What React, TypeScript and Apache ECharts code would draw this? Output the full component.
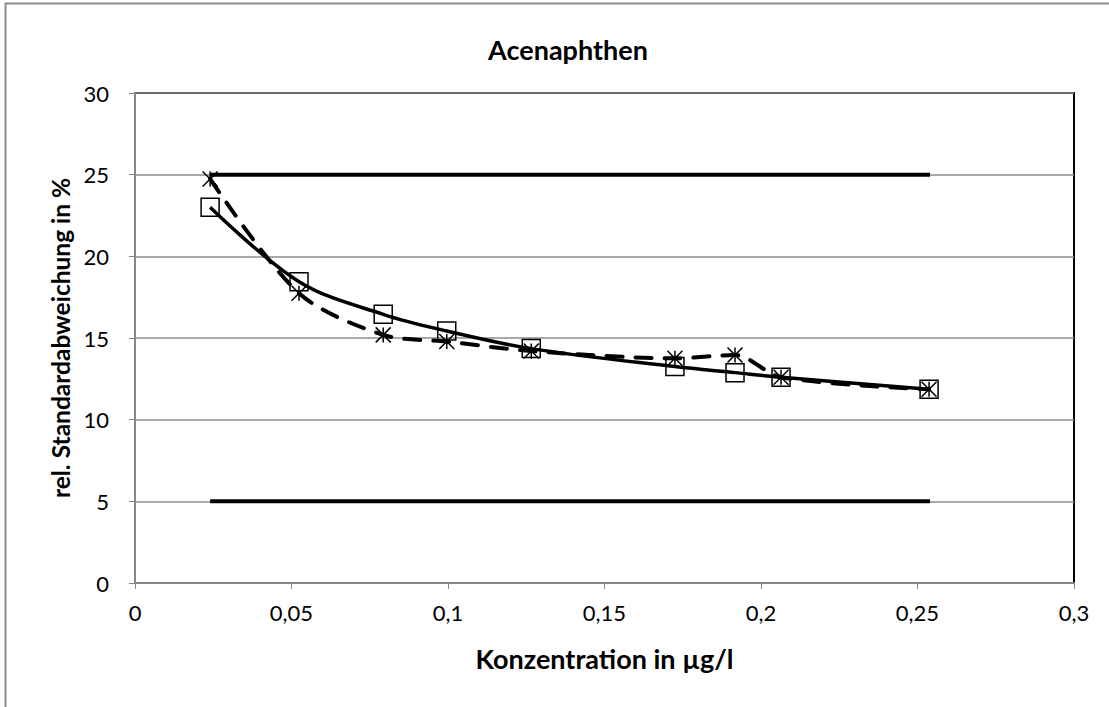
import React, { useEffect, useRef } from "react";
import * as echarts from "echarts";

const xSquares = [0.024, 0.0524, 0.0793, 0.0996, 0.1266, 0.1725, 0.1917, 0.2064, 0.2537];
const ySquares = [23.0, 18.45, 16.45, 15.43, 14.35, 13.25, 12.88, 12.6, 11.86];
const xStars = [0.024, 0.0524, 0.0793, 0.0996, 0.1266, 0.1725, 0.1917, 0.2064, 0.2537];
const yStars = [24.74, 17.74, 15.19, 14.78, 14.2, 13.76, 13.96, 12.6, 11.86];
const limitX = [0.024, 0.254];
const upperLimit = 25;
const lowerLimit = 5;

const FONT = "Lato";
const STAR = "path://M0,0L12,12M12,0L0,12M6,0L6,12";

export default function App() {
  const ref = useRef<HTMLDivElement>(null);
  useEffect(() => {
    if (!ref.current) return;
    const chart = echarts.init(ref.current, null, { renderer: "svg" });
    const fmt = (v: number) => String(Math.round(v * 1000) / 1000).replace(".", ",");
    chart.setOption({
      animation: false,
      backgroundColor: "#fff",
      textStyle: { fontFamily: FONT },
      title: {
        text: "Acenaphthen",
        left: 563,
        top: 31,
        textAlign: "center",
        textStyle: { fontFamily: FONT, fontWeight: "bold", fontSize: 27, color: "#000" },
      },
      graphic: [
        {
          type: "rect",
          shape: { x: 5.5, y: 3.5, width: 1300, height: 900 },
          style: { fill: "none", stroke: "#8c8c8c", lineWidth: 2 },
          silent: true,
        },
      ],
      grid: {
        left: 135,
        right: 35,
        top: 93,
        bottom: 124,
        show: true,
        borderColor: "#000",
        borderWidth: 2,
      },
      xAxis: {
        type: "value",
        min: 0,
        max: 0.3,
        interval: 0.05,
        name: "Konzentration in µg/l",
        nameLocation: "middle",
        nameGap: 62,
        nameTextStyle: { fontFamily: FONT, fontWeight: "bold", fontSize: 27, color: "#000" },
        axisLine: { show: true, onZero: false, lineStyle: { color: "#868686", width: 2 } },
        axisTick: { show: true, inside: false, length: 6, lineStyle: { color: "#868686", width: 1 } },
        axisLabel: { formatter: fmt, fontFamily: FONT, fontSize: 22, color: "#000", margin: 18 },
        splitLine: { show: false },
      },
      yAxis: {
        type: "value",
        min: 0,
        max: 30,
        interval: 5,
        name: "rel. Standardabweichung in %",
        nameLocation: "middle",
        nameGap: 60,
        nameTextStyle: { fontFamily: FONT, fontWeight: "bold", fontSize: 24.5, color: "#000" },
        axisLine: { show: true, onZero: false, lineStyle: { color: "#868686", width: 2 } },
        axisTick: { show: true, inside: false, length: 6, lineStyle: { color: "#868686", width: 1 } },
        axisLabel: { fontFamily: FONT, fontSize: 22, color: "#000", margin: 26 },
        splitLine: { show: true, lineStyle: { color: "#8c8c8c", width: 1.5 } },
      },
      series: [
        {
          type: "line",
          data: limitX.map((x) => [x, upperLimit]),
          symbol: "none",
          lineStyle: { color: "#000", width: 4 },
          z: 3,
        },
        {
          type: "line",
          data: limitX.map((x) => [x, lowerLimit]),
          symbol: "none",
          lineStyle: { color: "#000", width: 4 },
          z: 3,
        },
        {
          type: "line",
          data: xStars.map((x, i) => [x, yStars[i]]),
          smooth: 0.3,
          symbol: STAR,
          symbolSize: 15,
          symbolKeepAspect: true,
          itemStyle: { color: "transparent", borderColor: "#000", borderWidth: 1.5 },
          lineStyle: { color: "#000", width: 4, type: [16, 13], cap: "round" },
          z: 4,
        },
        {
          type: "line",
          data: xSquares.map((x, i) => [x, ySquares[i]]),
          smooth: 0.35,
          symbol: "rect",
          symbolSize: 18,
          itemStyle: { color: "transparent", borderColor: "#000", borderWidth: 1.5 },
          lineStyle: { color: "#000", width: 3.5 },
          z: 5,
        },
      ],
    });
    return () => chart.dispose();
  }, []);
  return (
    <div
      ref={ref}
      style={{ position: "fixed", left: 0, top: 0, width: 1109, height: 707 }}
    />
  );
}
